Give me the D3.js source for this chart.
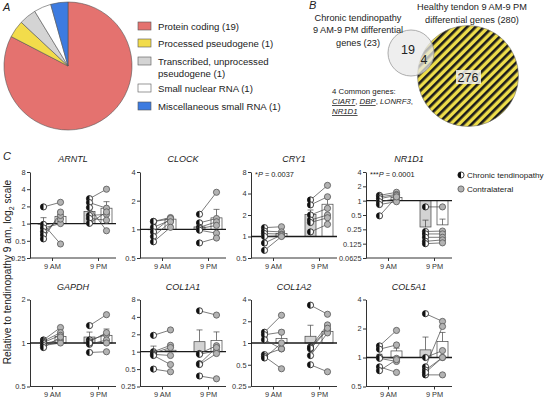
<!DOCTYPE html>
<html>
<head>
<meta charset="utf-8">
<script src="https://cdn.jsdelivr.net/npm/d3@7"></script>
<style>
  body { margin: 0; background: #fff; }
  svg { font-family: "Liberation Sans", Arial, Helvetica, sans-serif; }
</style>
</head>
<body>
<div id="chart"></div>
<script>
// ---- Panel A data
const pieLabels = [["Protein coding (19)"], ["Processed pseudogene (1)"], ["Transcribed, unprocessed", "pseudogene (1)"], ["Small nuclear RNA (1)"], ["Miscellaneous small RNA (1)"]];
const pieCounts = [19, 1, 1, 1, 1];
const pieColors = ["#e4726f", "#f2dc4b", "#d4d4d4", "#ffffff", "#3d7be0"];

// ---- Panel B data
const vennCounts = { chronicOnly: 19, common: 4, healthyOnly: 276 };
const commonGenes = ["CIART", "DBP", "LONRF3", "NR1D1"];

// ---- Panel C data (relative expression, paired by index)
const genes = ["ARNTL", "CLOCK", "CRY1", "NR1D1", "GAPDH", "COL1A1", "COL1A2", "COL5A1"];
const times = ["9 AM", "9 PM"];
const yDomains = [[0.25, 8], [0.5, 4], [0.5, 8], [0.0625, 4], [0.5, 2], [0.25, 8], [0.25, 4], [0.5, 4]];
const yTicks = [
  [0.25, 0.5, 1, 2, 4, 8], [0.5, 1, 2, 4], [0.5, 1, 2, 4, 8], [0.0625, 0.125, 0.25, 0.5, 1, 2, 4],
  [0.5, 1, 2], [0.25, 0.5, 1, 2, 4, 8], [0.25, 0.5, 1, 2, 4], [0.5, 1, 2, 4]
];
const chronicAM = [
  [1.96, 0.97, 0.84, 0.72, 0.63, 0.54],
  [1.21, 1.21, 1.05, 0.94, 0.84, 0.74],
  [1.33, 1.19, 1.1, 1.0, 0.81, 0.64],
  [1.29, 1.2, 1.1, 0.95, 0.83, 0.48],
  [1.05, 1.03, 1.01, 0.99, 0.96, 0.93],
  [1.92, 1.0, 0.95, 0.9, 0.86, 0.5],
  [1.41, 1.3, 1.11, 0.69, 0.65, 0.62],
  [1.32, 1.22, 1.01, 0.98, 0.8, 0.73]
];
const contraAM = [
  [2.36, 0.44, 1.0, 1.2, 1.39, 1.59],
  [1.28, 1.33, 1.25, 1.3, 1.2, 1.05],
  [1.37, 1.16, 1.08, 1.02, 1.05, 1.0],
  [1.5, 1.35, 1.29, 1.1, 0.95, 1.2],
  [1.28, 1.18, 1.13, 1.05, 1.0, 1.1],
  [2.38, 1.29, 1.18, 0.86, 0.6, 0.45],
  [2.42, 1.41, 0.83, 0.83, 0.44, 1.0],
  [1.91, 1.35, 0.98, 0.91, 0.7, 0.95]
];
const chronicPM = [
  [2.73, 2.33, 1.91, 1.39, 1.23, 1.01],
  [1.44, 1.17, 1.05, 1.02, 0.98, 0.72],
  [3.25, 2.77, 2.0, 1.7, 1.57, 1.16],
  [0.74, 0.225, 0.2, 0.17, 0.14, 0.125],
  [1.32, 1.05, 1.02, 0.98, 1.0, 0.86],
  [5.1, 0.93, 0.9, 0.62, 0.6, 0.38],
  [3.34, 0.88, 0.83, 0.67, 0.5, 0.85],
  [2.85, 1.0, 0.8, 0.74, 0.66, 0.7]
];
const contraPM = [
  [4.0, 1.86, 0.75, 1.45, 1.15, 1.6],
  [2.45, 1.3, 1.2, 1.1, 0.91, 0.81],
  [5.2, 3.6, 2.48, 2.0, 1.83, 1.48],
  [0.74, 0.23, 0.2, 0.17, 0.15, 0.13],
  [1.57, 1.14, 1.18, 1.05, 1.0, 0.87],
  [4.3, 1.27, 1.04, 1.18, 0.93, 0.34],
  [2.5, 1.78, 1.52, 1.38, 0.4, 1.6],
  [2.37, 1.18, 2.1, 1.0, 0.66, 1.0]
];
// bar means and top of SEM: [chronic AM, contra AM, chronic PM, contra PM]
const barMeans = [
  [0.98, 1.34, 1.63, 1.86], [0.99, 1.28, 1.06, 1.32], [1.0, 1.1, 2.04, 2.83], [1.0, 1.17, 0.28, 0.31],
  [1.0, 1.11, 1.1, 1.13], [1.0, 1.06, 1.49, 1.57], [1.0, 1.15, 1.24, 1.45], [1.0, 1.17, 1.2, 1.47]
];
const barErrTop = [
  [1.27, 1.42, 1.9, 2.42], [1.12, 1.32, 1.15, 1.62], [1.12, 1.16, 2.35, 3.6], [1.1, 1.25, 0.39, 0.41],
  [1.03, 1.16, 1.19, 1.25], [1.25, 1.2, 2.38, 2.2], [1.2, 1.5, 1.76, 1.7], [1.08, 1.25, 1.63, 1.82]
];
const pValues = { CRY1: ["*", "0.0037"], NR1D1: ["***", "0.0001"] };

const width = 546;
const height = 398;

const svg = d3.select("#chart").append("svg")
  .attr("width", width)
  .attr("height", height);

// panel letters
[["A", 3, 11], ["B", 309, 9], ["C", 3, 160]].forEach(([t, x, y]) => {
  svg.append("text").attr("x", x).attr("y", y).text(t)
    .style("font-size", "11px").style("font-style", "italic").attr("fill", "#222");
});

// ================= Panel A: pie
const pieData = d3.pie().sort(null).value((d) => d)(pieCounts);
const arc = d3.arc().innerRadius(0).outerRadius(64);
const gA = svg.append("g").attr("transform", "translate(68,66)");
gA.selectAll("path")
  .data(pieData)
  .join("path")
  .attr("d", arc)
  .attr("fill", (d, i) => pieColors[i])
  .attr("stroke", "#555")
  .attr("stroke-width", 0.6);

const legendY = [26, 43, 61, 88, 106];
const legA = svg.append("g");
pieLabels.forEach((lines, i) => {
  legA.append("rect")
    .attr("x", 138).attr("y", legendY[i] - 4)
    .attr("width", 13).attr("height", 8)
    .attr("fill", pieColors[i]).attr("stroke", "#555").attr("stroke-width", 0.6);
  lines.forEach((l, j) => {
    legA.append("text")
      .attr("x", 158).attr("y", legendY[i] + 3.5 + j * 12.5)
      .text(l)
      .style("font-size", "9.6px").attr("fill", "#222");
  });
});

// ================= Panel B: Venn
const defs = svg.append("defs");
const pat = defs.append("pattern")
  .attr("id", "stripes")
  .attr("patternUnits", "userSpaceOnUse")
  .attr("width", 6).attr("height", 6)
  .attr("patternTransform", "rotate(45)");
pat.append("rect").attr("width", 6).attr("height", 6).attr("fill", "#eedd4a");
pat.append("rect").attr("width", 2.6).attr("height", 6).attr("fill", "#1a1a1a");

svg.append("circle").attr("cx", 468).attr("cy", 76).attr("r", 50.5)
  .attr("fill", "url(#stripes)").attr("stroke", "#777").attr("stroke-width", 0.6);
svg.append("circle").attr("cx", 411).attr("cy", 53).attr("r", 23)
  .attr("fill", "#e8e8e8").attr("fill-opacity", 0.75)
  .attr("stroke", "#999").attr("stroke-width", 0.8);

svg.append("text").attr("x", 408).attr("y", 54).attr("text-anchor", "middle")
  .text(vennCounts.chronicOnly).style("font-size", "12.5px").attr("fill", "#222");
svg.append("text").attr("x", 424).attr("y", 64).attr("text-anchor", "middle")
  .text(vennCounts.common).style("font-size", "12.5px").attr("fill", "#222");
svg.append("rect").attr("x", 456).attr("y", 70).attr("width", 25).attr("height", 14)
  .attr("fill", "#f2f2f2").attr("fill-opacity", 0.85);
svg.append("text").attr("x", 468).attr("y", 82).attr("text-anchor", "middle")
  .text(vennCounts.healthyOnly).style("font-size", "12.5px").attr("fill", "#222");

[["Chronic tendinopathy", 21], ["9 AM-9 PM differential", 33], ["genes (23)", 46]].forEach(([t, y]) => {
  svg.append("text").attr("x", 358).attr("y", y).attr("text-anchor", "middle")
    .text(t).style("font-size", "9.2px").attr("fill", "#222");
});
[["Healthy tendon 9 AM-9 PM", 10], ["differential genes (280)", 23]].forEach(([t, y]) => {
  svg.append("text").attr("x", 472).attr("y", y).attr("text-anchor", "middle")
    .text(t).style("font-size", "9.2px").attr("fill", "#222");
});
svg.append("text").attr("x", 332).attr("y", 94).text("4 Common genes:")
  .style("font-size", "7.8px").attr("fill", "#222");
const cg = svg.append("text").attr("x", 332).attr("y", 104)
  .style("font-size", "7.8px").attr("fill", "#222");
const underlined = ["CIART", "DBP", "NR1D1"];
commonGenes.slice(0, 3).forEach((g, i) => {
  cg.append("tspan").text(g).style("font-style", "italic")
    .style("text-decoration", underlined.includes(g) ? "underline" : "none");
  cg.append("tspan").text(", ");
});
svg.append("text").attr("x", 332).attr("y", 114)
  .text(commonGenes[3]).style("font-size", "7.8px").style("font-style", "italic")
  .style("text-decoration", "underline").attr("fill", "#222");

// ================= Panel C: small multiples
const colX = [30, 140, 251, 366];
const rowY = [[172, 258], [299.5, 386.5]];
const plotW = 86;
const offset = 8.5;
const barW = 11;
const axisColor = "#333";

function fmtTick(v) {
  return String(v);
}

genes.forEach((gene, gi) => {
  const x0 = colX[gi % 4];
  const [top, bottom] = rowY[Math.floor(gi / 4)];
  const g = svg.append("g");

  const y = d3.scaleLog().base(2).domain(yDomains[gi]).range([bottom, top]);
  const x = d3.scalePoint().domain(times).range([x0 + 22, x0 + 68]);

  // axes
  const ya = g.append("g")
    .attr("transform", `translate(${x0},0)`)
    .call(d3.axisLeft(y).tickValues(yTicks[gi]).tickFormat(fmtTick).tickSize(3).tickSizeOuter(0));
  const xa = g.append("g")
    .attr("transform", `translate(0,${bottom})`)
    .call(d3.axisBottom(x).tickSize(3).tickSizeOuter(0));
  xa.select(".domain").remove();
  g.append("line")
    .attr("x1", x0).attr("x2", x0 + plotW)
    .attr("y1", bottom).attr("y2", bottom)
    .attr("stroke", axisColor).attr("stroke-width", 1);
  [ya, xa].forEach((a) => {
    a.selectAll("path,line").attr("stroke", axisColor);
    a.selectAll("text").style("font-size", "7.4px").attr("fill", "#333").style("font-family", "inherit");
  });
  ya.selectAll("text").attr("x", -4.5);
  xa.selectAll("text").attr("y", 5.5);

  // title
  g.append("text")
    .attr("x", x0 + plotW / 2).attr("y", top - 10)
    .attr("text-anchor", "middle")
    .text(gene)
    .style("font-size", "9px").style("font-style", "italic").attr("fill", "#222");

  const groups = [
    { t: times[0], vals: chronicAM[gi], side: -1 },
    { t: times[0], vals: contraAM[gi], side: 1 },
    { t: times[1], vals: chronicPM[gi], side: -1 },
    { t: times[1], vals: contraPM[gi], side: 1 }
  ];
  const cx = (k) => x(groups[k].t) + groups[k].side * offset;

  // bars
  groups.forEach((grp, k) => {
    const m = barMeans[gi][k];
    const y1 = y(1), ym = y(m);
    g.append("rect")
      .attr("x", cx(k) - barW / 2)
      .attr("y", Math.min(y1, ym))
      .attr("width", barW)
      .attr("height", Math.abs(y1 - ym))
      .attr("fill", grp.side < 0 ? "#d3d3d3" : "#fff")
      .attr("stroke", "#444").attr("stroke-width", 0.7);
    const ye = y(barErrTop[gi][k]);
    g.append("line")
      .attr("x1", cx(k)).attr("x2", cx(k))
      .attr("y1", ym).attr("y2", ye)
      .attr("stroke", "#444").attr("stroke-width", 0.7);
    g.append("line")
      .attr("x1", cx(k) - 3).attr("x2", cx(k) + 3)
      .attr("y1", ye).attr("y2", ye)
      .attr("stroke", "#444").attr("stroke-width", 0.7);
  });

  // baseline at 1
  g.append("line")
    .attr("x1", x0).attr("x2", x0 + plotW)
    .attr("y1", y(1)).attr("y2", y(1))
    .attr("stroke", "#1a1a1a").attr("stroke-width", 1.3);

  // paired lines
  [[0, 1], [2, 3]].forEach(([a, b]) => {
    groups[a].vals.forEach((v, k) => {
      g.append("line")
        .attr("x1", cx(a)).attr("y1", y(v))
        .attr("x2", cx(b)).attr("y2", y(groups[b].vals[k]))
        .attr("stroke", "#444").attr("stroke-width", 0.7);
    });
  });

  // points
  groups.forEach((grp, k) => {
    grp.vals.forEach((v) => {
      const px = cx(k), py = y(v), r = 3.1;
      if (grp.side > 0) {
        g.append("circle").attr("cx", px).attr("cy", py).attr("r", r)
          .attr("fill", "#b3b3b3").attr("stroke", "#555").attr("stroke-width", 0.8);
      } else {
        g.append("circle").attr("cx", px).attr("cy", py).attr("r", r)
          .attr("fill", "#fff").attr("stroke", "#111").attr("stroke-width", 0.8);
        g.append("path")
          .attr("d", `M${px},${py - r}A${r},${r} 0 0 0 ${px},${py + r}Z`)
          .attr("fill", "#111");
      }
    });
  });

  // p-value annotation
  if (pValues[gene]) {
    const [stars, p] = pValues[gene];
    const pt = g.append("text").attr("x", x0 + 4).attr("y", top + 5)
      .style("font-size", "7.4px").attr("fill", "#222");
    pt.append("tspan").text(stars);
    pt.append("tspan").text("P").style("font-style", "italic");
    pt.append("tspan").text(" = " + p);
  }
});

// legend for panel C
const legC = svg.append("g");
[["Chronic tendinopathy", 175, true], ["Contralateral", 189, false]].forEach(([t, yy, half]) => {
  const px = 461, r = 3.1;
  if (half) {
    legC.append("circle").attr("cx", px).attr("cy", yy).attr("r", r)
      .attr("fill", "#fff").attr("stroke", "#111").attr("stroke-width", 0.8);
    legC.append("path").attr("d", `M${px},${yy - r}A${r},${r} 0 0 0 ${px},${yy + r}Z`).attr("fill", "#111");
  } else {
    legC.append("circle").attr("cx", px).attr("cy", yy).attr("r", r)
      .attr("fill", "#b3b3b3").attr("stroke", "#555").attr("stroke-width", 0.8);
  }
  legC.append("text").attr("x", 467).attr("y", yy + 3).text(t)
    .style("font-size", "8.1px").attr("fill", "#222");
});

// shared y label
const yl = svg.append("text")
  .attr("transform", "translate(11,272) rotate(-90)")
  .attr("text-anchor", "middle")
  .style("font-size", "10.2px").attr("fill", "#222");
yl.append("tspan").text("Relative to tendinopathy 9 am, log");
yl.append("tspan").text("2").attr("dy", 3).style("font-size", "7px");
yl.append("tspan").text(" scale").attr("dy", -3);
</script>
</body>
</html>
